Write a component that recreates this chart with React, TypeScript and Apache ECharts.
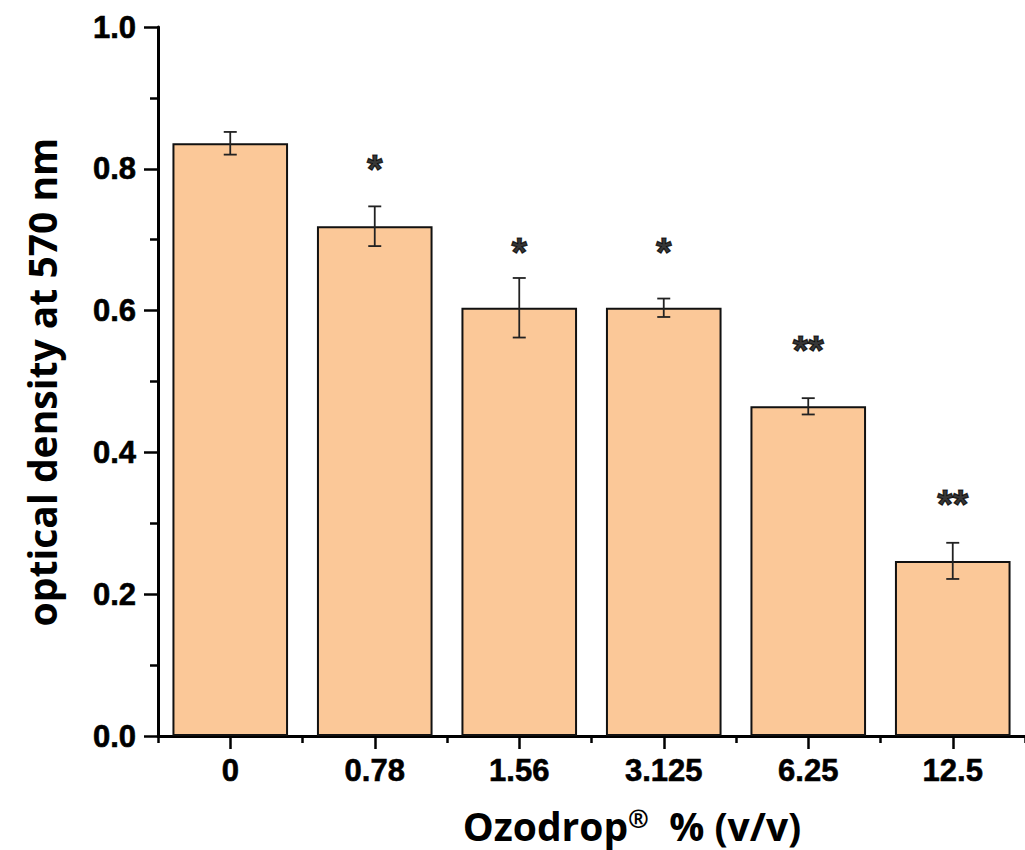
import React, { useEffect, useRef } from "react";
import * as echarts from "echarts";

const categories = ["0", "0.78", "1.56", "3.125", "6.25", "12.5"];
const means = [0.836, 0.719, 0.604, 0.604, 0.465, 0.247];
const errors = [0.016, 0.028, 0.042, 0.013, 0.0115, 0.0255];
const starLabels = ["", "*", "*", "*", "**", "**"];
const starLevels = [null, 0.811, 0.694, 0.694, 0.556, 0.338];
const yTicks = [0, 0.2, 0.4, 0.6, 0.8, 1.0];

export default function App() {
  const ref = useRef<HTMLDivElement>(null);
  useEffect(() => {
    if (!ref.current) return;
    const chart = echarts.init(ref.current, null, { renderer: "svg" });
    const errData = means.map((m, i) => [i, m - errors[i], m + errors[i]]);
    const starData = starLevels
      .map((v, i) => (v == null ? null : { value: [i, v], name: starLabels[i] }))
      .filter((d) => d !== null);
    const tickFont = "Liberation Sans";
    chart.setOption({
      animation: false,
      backgroundColor: "#ffffff",
      grid: { left: 158, right: -11, top: 27, bottom: 114, containLabel: false },
      xAxis: [
        {
          type: "category",
          data: categories,
          boundaryGap: true,
          axisLine: { show: true, lineStyle: { color: "#000", width: 3 } },
          axisTick: { show: true, alignWithLabel: true, length: 13, lineStyle: { color: "#000", width: 2.5 } },
          axisLabel: {
            show: true,
            color: "#000",
            fontSize: 31,
            fontWeight: "bold",
            fontFamily: tickFont,
            margin: 19,
            textBorderColor: "#000",
            textBorderWidth: 0.6,
          },
          splitLine: { show: false },
        },
        {
          type: "category",
          data: categories,
          position: "bottom",
          boundaryGap: true,
          axisLine: { show: false },
          axisTick: { show: true, alignWithLabel: false, length: 7, lineStyle: { color: "#000", width: 2.5 } },
          axisLabel: { show: false },
          splitLine: { show: false },
        },
      ],
      yAxis: {
        type: "value",
        min: 0,
        max: 1.0,
        interval: 0.2,
        axisLine: { show: true, lineStyle: { color: "#000", width: 3 } },
        axisTick: { show: true, length: 14, lineStyle: { color: "#000", width: 2.5 } },
        minorTick: { show: true, splitNumber: 2, length: 8, lineStyle: { color: "#000", width: 2.5 } },
        axisLabel: {
          color: "#000",
          fontSize: 31,
          fontWeight: "bold",
          fontFamily: tickFont,
          margin: 22,
          textBorderColor: "#000",
          textBorderWidth: 0.6,
          formatter: (v: number) => (yTicks.some((t) => Math.abs(t - v) < 1e-9) ? v.toFixed(1) : ""),
        },
        splitLine: { show: false },
      },
      series: [
        {
          type: "bar",
          data: means,
          barWidth: "80%",
          itemStyle: { color: "#FBC898", borderColor: "#111", borderWidth: 2 },
          z: 2,
        },
        {
          type: "custom",
          data: errData,
          encode: { x: 0, y: [1, 2] },
          z: 3,
          renderItem: (params: any, api: any) => {
            const x = api.value(0);
            const lo = api.coord([x, api.value(1)]);
            const hi = api.coord([x, api.value(2)]);
            const hw = 6.5;
            const style = { stroke: "#222", lineWidth: 1.8 };
            return {
              type: "group",
              children: [
                { type: "line", shape: { x1: hi[0], y1: hi[1], x2: lo[0], y2: lo[1] }, style },
                { type: "line", shape: { x1: hi[0] - hw, y1: hi[1], x2: hi[0] + hw, y2: hi[1] }, style },
                { type: "line", shape: { x1: lo[0] - hw, y1: lo[1], x2: lo[0] + hw, y2: lo[1] }, style },
              ],
            };
          },
        },
        {
          type: "scatter",
          data: starData,
          symbolSize: 0,
          z: 4,
          label: {
            show: true,
            position: "inside",
            formatter: (p: any) => p.name,
            color: "#000",
            fontSize: 40,
            fontWeight: "bold",
            fontFamily: tickFont,
            textBorderColor: "#000",
            textBorderWidth: 1.2,
            offset: [0, 8],
          },
        },
      ],
      graphic: [
        {
          type: "text",
          x: 41,
          y: 382,
          rotation: Math.PI / 2,
          style: {
            text: "optical density at 570 nm",
            fontFamily: "'Open Sans', sans-serif",
            fontWeight: "bold",
            fontSize: 39,
            fill: "#000",
            align: "center",
            verticalAlign: "middle",
          },
        },
        {
          type: "text",
          x: 632,
          y: 825,
          style: {
            text: "Ozodrop{sup|®}  % (v/v)",
            fontFamily: "'Open Sans', sans-serif",
            fontWeight: "bold",
            fontSize: 39,
            fill: "#000",
            align: "center",
            verticalAlign: "middle",
            rich: {
              sup: {
                fontFamily: "'Open Sans', sans-serif",
                fontWeight: "bold",
                fontSize: 25,
                verticalAlign: "top",
                fill: "#000",
              },
            },
          },
        },
      ],
    });
    return () => chart.dispose();
  }, []);
  return (
    <div
      ref={ref}
      style={{ position: "fixed", left: 0, top: 0, width: 1025, height: 850 }}
    />
  );
}
